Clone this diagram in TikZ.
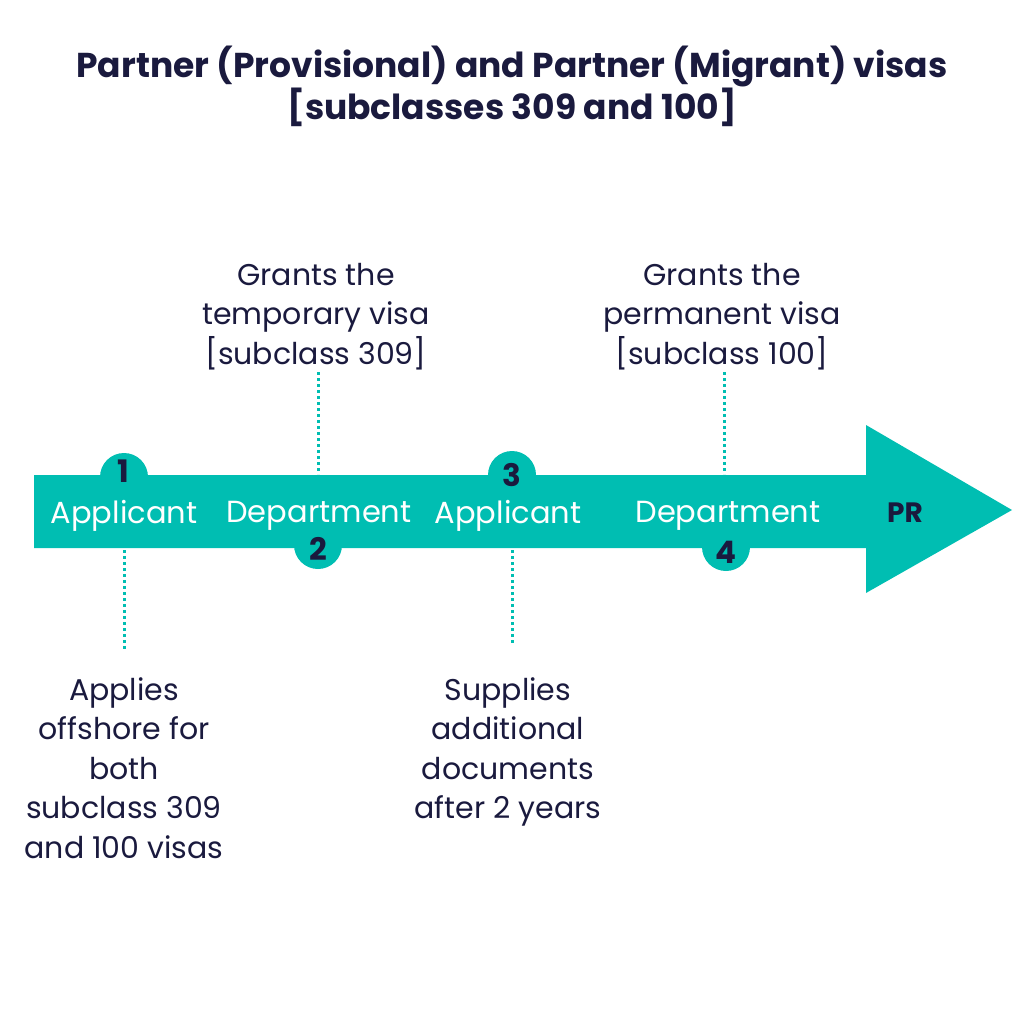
\documentclass[tikz,border=0pt]{standalone}
\usepackage{fontspec}
\setmainfont{Poppins}
\definecolor{teal1}{RGB}{0,190,178}
\definecolor{navy}{RGB}{26,26,62}
\begin{document}
\begin{tikzpicture}[x=1pt,y=-1pt,
  lbl/.style={font=\fontsize{30}{39.5}\selectfont, text=navy, align=center, inner sep=0pt},
  stage/.style={font=\fontsize{30.5}{34}\selectfont, text=white, inner sep=0pt},
  num/.style={font=\fontsize{31}{34}\bfseries\selectfont, text=navy, inner sep=0pt},
  dotline/.style={teal1, line width=3pt, dash pattern=on 3pt off 3pt}]
\useasboundingbox (0,0) rectangle (1024,1024);
% title
\node[font=\fontsize{34.5}{42}\bfseries\selectfont, text=navy, align=center, inner sep=0pt] (title) at (512,86) {Partner (Provisional) and Partner (Migrant) visas\\{}[subclasses 309 and 100]};
% arrow
\fill[teal1] (124,477) circle (24);
\fill[teal1] (318,545) circle (24);
\fill[teal1] (512,475) circle (24);
\fill[teal1] (726,547) circle (24);
\fill[teal1] (34,475) -- (866,475) -- (866,425) -- (1012,510) -- (866,593) -- (866,548) -- (34,548) -- cycle;
% numbers
\node[num] (n1) at (123,471) {1};
\node[num] (n2) at (318,549) {2};
\node[num] (n3) at (512,475) {3};
\node[num] (n4) at (726,552) {4};
% stage labels
\node[stage] (s1) at (124,516) {Applicant};
\node[stage] (s2) at (319,516) {Department};
\node[stage] (s3) at (508,516) {Applicant};
\node[stage] (s4) at (728,516) {Department};
\node[font=\fontsize{28}{30}\bfseries\selectfont, text=navy, inner sep=0pt] (pr) at (905,513) {PR};
% descriptions
\node[lbl, anchor=north] (d2) at (316,263) {Grants the\\temporary visa\\{}[subclass 309]};
\node[lbl, anchor=north] (d4) at (722,263) {Grants the\\permanent visa\\{}[subclass 100]};
\node[lbl, anchor=north] (d1) at (124,677) {Applies\\offshore for\\both\\subclass 309\\and 100 visas};
\node[lbl, anchor=north] (d3) at (508,677) {Supplies\\additional\\documents\\after 2 years};
% connectors
\coordinate (c2t) at (318,372); \coordinate (c2b) at (318,474);
\coordinate (c4t) at (724,372); \coordinate (c4b) at (724,474);
\coordinate (c1t) at (124,550); \coordinate (c1b) at (124,650);
\coordinate (c3t) at (512,550); \coordinate (c3b) at (512,645);
\draw[dotline] (c2t) -- (c2b);
\draw[dotline] (c4t) -- (c4b);
\draw[dotline] (c1t) -- (c1b);
\draw[dotline] (c3t) -- (c3b);
\end{tikzpicture}
\end{document}
